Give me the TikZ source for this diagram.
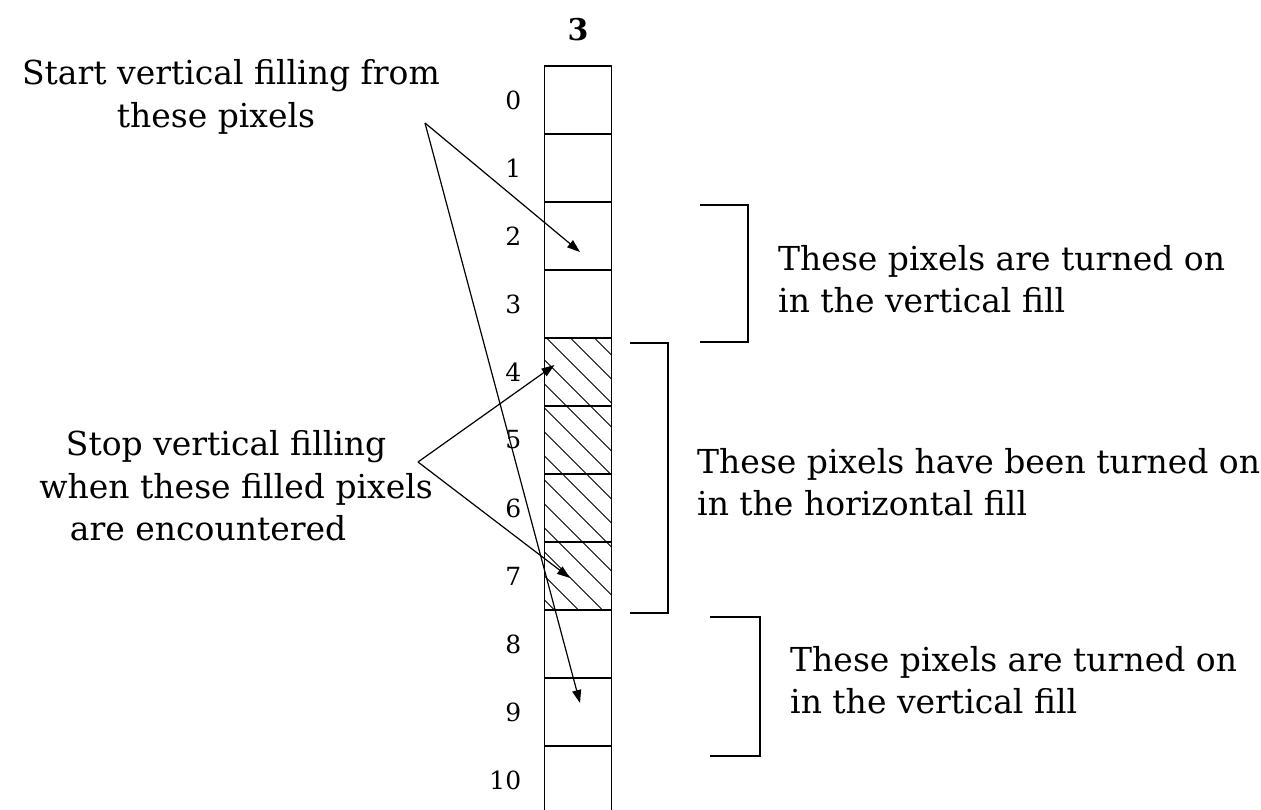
\documentclass[tikz,border=0pt]{standalone}
\usepackage{fontspec}
\setmainfont{DejaVu Serif}
\usetikzlibrary{arrows.meta,positioning,calc}
\newcommand{\txtfont}{\fontsize{33}{42.5}\selectfont}
\newcommand{\numfont}{\fontsize{25}{30}\selectfont}
\newcommand{\hdrfont}{\fontsize{30}{36}\selectfont\bfseries}

\begin{document}
\begin{tikzpicture}[x=1pt,y=-1pt,
  every node/.style={font=\txtfont},
  cell/.style={draw,line width=1.7pt,minimum width=67pt,minimum height=68pt,inner sep=0pt,outer sep=0pt},
  rowlbl/.style={font=\numfont,inner sep=0pt},
  note/.style={inner sep=0pt},
  arr/.style={-{Triangle[length=13pt,width=9pt]},line width=1.2pt},
  hatch/.style={line width=1pt},
  brk/.style={line width=1.5pt}
]
\useasboundingbox (0,0) rectangle (1261,810);
\clip (0,0) rectangle (1261,810);

% column of pixels
\foreach \i in {0,...,10}
  \node[cell] (c\i) at (578,{100+68*\i}) {};
\begin{scope}
  \clip (c4.north west) rectangle (c7.south east);
  \foreach \k in {0,...,15}
    \draw[hatch] ($(c4.north west)+({\k*24-286},0)$) -- ++(300,300);
\end{scope}
\foreach \i in {0,...,10}
  \node[rowlbl,left=23pt of c\i] (n\i) {\i};
\node[font=\hdrfont,above=22pt of c0] (colhdr) {3};

% brackets
\coordinate (b1top) at (700,205); \coordinate (b1bot) at (700,342);
\coordinate (b2top) at (630,343); \coordinate (b2bot) at (630,613);
\coordinate (b3top) at (710,617); \coordinate (b3bot) at (710,756);
\draw[brk] (b1top) -- ++(48,0) |- (b1bot);
\draw[brk] (b2top) -- ++(38,0) |- (b2bot);
\draw[brk] (b3top) -- ++(50,0) |- (b3bot);

% notes
\node[note,align=left,anchor=west] (vert1) at (778,279) {These pixels are turned on\\in the vertical fill};
\node[note,align=left,anchor=west] (horiz) at (697,482) {These pixels have been turned on\\in the horizontal fill};
\node[note,align=left,anchor=west] (vert2) at (790,680) {These pixels are turned on\\in the vertical fill};
\node[note,align=center,anchor=east] (startlbl) at (440,97) {Start vertical filling from\\these pixels\hspace*{30pt}};
\node[note,align=center,anchor=east] (stoplbl) at (433,486) {Stop vertical filling\hspace*{20pt}\\when these filled pixels\\are encountered\hspace*{56pt}};

% arrows
\coordinate (srcA) at (425,123);
\coordinate (srcB) at (418,462);
\coordinate (tipA2) at ($(c2.center)+(2,16)$);
\coordinate (tipA9) at ($(c9.center)+(2,-9)$);
\coordinate (tipB4) at ($(c4.west)+(10,-7)$);
\coordinate (tipB7) at ($(c7.center)+(-8,2)$);
\draw[arr] (srcA) -- (tipA2);
\draw[arr] (srcA) -- (tipA9);
\draw[arr] (srcB) -- (tipB4);
\draw[arr] (srcB) -- (tipB7);
\end{tikzpicture}
\end{document}
